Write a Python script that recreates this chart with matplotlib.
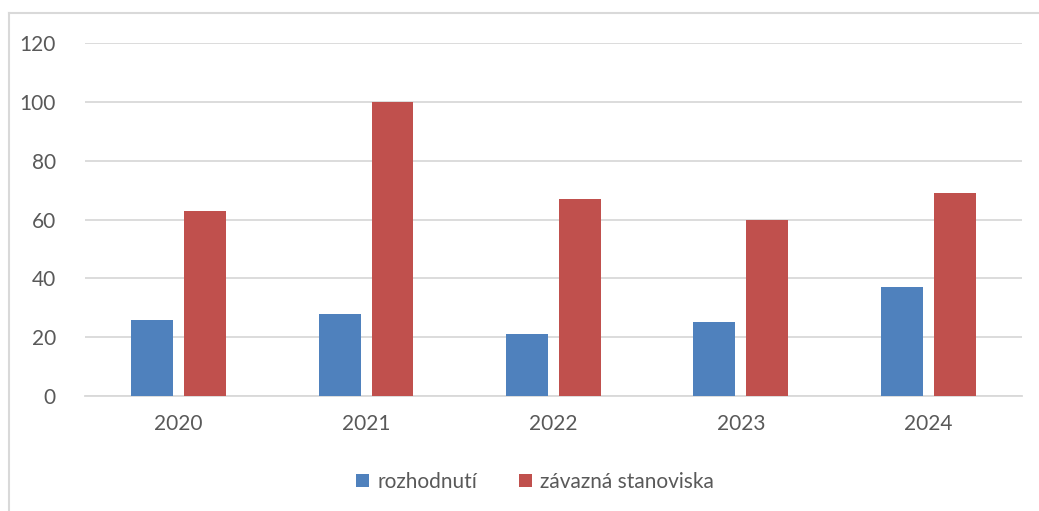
import numpy as np
import matplotlib.pyplot as plt
from matplotlib.lines import Line2D

years = ["2020", "2021", "2022", "2023", "2024"]
rozhodnuti = [26, 28, 21, 25, 37]
stanoviska = [63, 100, 67, 60, 69]
labels = ["rozhodnutí", "závazná stanoviska"]

plt.rcParams['font.family'] = ['Lato', 'DejaVu Sans']
text_color = '#595959'

fig = plt.figure(figsize=(10.39, 5.11), dpi=100)
ax = fig.add_axes([0.0818, 0.225, 0.9018, 0.6909])

x = np.arange(len(years))
w = 0.224
ax.bar(x - 0.141, rozhodnuti, w, color='#4F81BD', label=labels[0], zorder=3)
ax.bar(x + 0.141, stanoviska, w, color='#C0504D', label=labels[1], zorder=3)

ax.set_xlim(-0.5, len(years) - 0.5)
ax.set_ylim(0, 120)
ax.set_yticks(range(0, 121, 20))
ax.set_xticks(x)
ax.set_xticklabels(years)
ax.grid(axis='y', color='#D9D9D9', linewidth=1.3, zorder=0)
for s in ['top', 'right', 'left']:
    ax.spines[s].set_visible(False)
ax.spines['bottom'].set_color('#D9D9D9')
ax.spines['bottom'].set_linewidth(1.3)
ax.tick_params(axis='both', length=0, labelsize=15, colors=text_color)
ax.tick_params(axis='y', pad=21)
ax.tick_params(axis='x', pad=13)

leg = fig.legend(loc='center', bbox_to_anchor=(0.515, 0.057), ncol=2, frameon=False,
                 fontsize=15, handlelength=0.62, handleheight=0.62,
                 handletextpad=0.4, columnspacing=2.0)
for t in leg.get_texts():
    t.set_color(text_color)

# chart area border (cropped at right and bottom)
fig.add_artist(Line2D([0.0091, 1.0], [0.9736, 0.9736], color='#D9D9D9', linewidth=1.5))
fig.add_artist(Line2D([0.0091, 0.0091], [0.0, 0.9736], color='#D9D9D9', linewidth=1.5))

fig.savefig('out.png', dpi=100)
